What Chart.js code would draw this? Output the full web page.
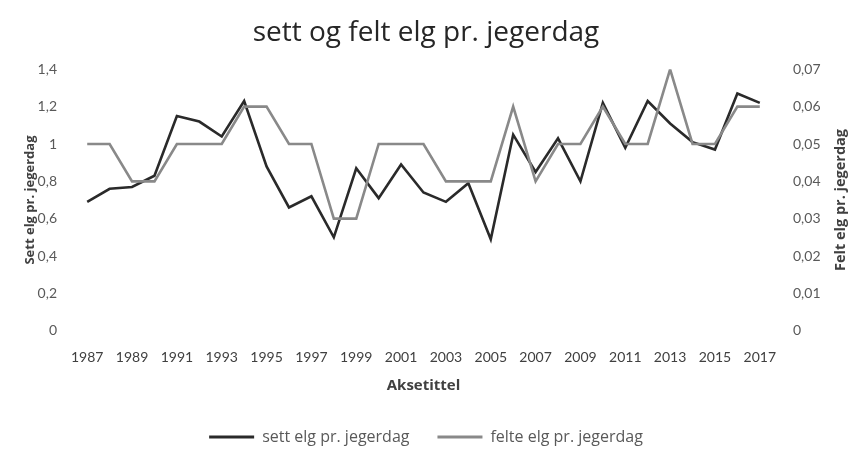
<!DOCTYPE html>
<html>
<head>
<meta charset="utf-8">
<script src="https://cdn.jsdelivr.net/npm/chart.js"></script>
<style>
  html, body { margin: 0; padding: 0; background: #fff; }
  #wrap { width: 852px; height: 449px; position: relative; }
</style>
</head>
<body>
<div id="wrap"><canvas id="elgChart"></canvas></div>
<script>
// Data
const years = ['1987', '1988', '1989', '1990', '1991', '1992', '1993', '1994', '1995', '1996',
               '1997', '1998', '1999', '2000', '2001', '2002', '2003', '2004', '2005', '2006',
               '2007', '2008', '2009', '2010', '2011', '2012', '2013', '2014', '2015', '2016', '2017'];
const settElg = [0.69, 0.76, 0.77, 0.83, 1.15, 1.12, 1.04, 1.23, 0.88, 0.66,
                 0.72, 0.50, 0.87, 0.71, 0.89, 0.74, 0.69, 0.79, 0.49, 1.05,
                 0.85, 1.03, 0.80, 1.22, 0.98, 1.23, 1.11, 1.01, 0.97, 1.27, 1.22];
const felteElg = [0.05, 0.05, 0.04, 0.04, 0.05, 0.05, 0.05, 0.06, 0.06, 0.05,
                  0.05, 0.03, 0.03, 0.05, 0.05, 0.05, 0.04, 0.04, 0.04, 0.06,
                  0.04, 0.05, 0.05, 0.06, 0.05, 0.05, 0.07, 0.05, 0.05, 0.06, 0.06];

const chartTitle = 'sett og felt elg pr. jegerdag';
const xTitle = 'Aksetittel';
const leftTitle = 'Sett elg pr. jegerdag';
const rightTitle = 'Felt elg pr. jegerdag';

const TEXT_FONT = '"Open Sans", "Noto Sans", sans-serif';
const TICK_FONT = 'Lato, "Open Sans", sans-serif';
const DARK = '#2a2a2a';
const GRAY = '#898989';

// Chart.js rotates a right-hand title top-to-bottom; Excel has it bottom-to-top
const rightTitlePlugin = {
    id: 'rightTitle',
    afterDraw(chart) {
        const area = chart.chartArea;
        const ctx = chart.ctx;
        ctx.save();
        ctx.translate(841, (area.top + area.bottom) / 2);
        ctx.rotate(-Math.PI / 2);
        ctx.font = 'bold 14.5px ' + TEXT_FONT;
        ctx.fillStyle = '#404040';
        ctx.textAlign = 'center';
        ctx.textBaseline = 'middle';
        ctx.fillText(rightTitle, 0, 0);
        ctx.restore();
    }
};

function comma(value, digits) {
    if (value === 0) return '0';
    return Number(value.toFixed(digits)).toString().replace('.', ',');
}

new Chart(document.getElementById('elgChart'), {
    type: 'line',
    data: {
        labels: years,
        datasets: [
            {
                label: 'sett elg pr. jegerdag',
                data: settElg,
                yAxisID: 'y',
                borderColor: DARK,
                backgroundColor: DARK,
                borderWidth: 2.6,
                pointRadius: 0,
                tension: 0,
                order: 1
            },
            {
                label: 'felte elg pr. jegerdag',
                data: felteElg,
                yAxisID: 'y1',
                borderColor: GRAY,
                backgroundColor: GRAY,
                borderWidth: 2.6,
                pointRadius: 0,
                tension: 0,
                order: 0
            }
        ]
    },
    options: {
        responsive: true,
        maintainAspectRatio: false,
        animation: false,
        layout: { padding: { left: 0, right: 0, top: 0, bottom: -6 } },
        plugins: {
            title: {
                display: true,
                text: chartTitle,
                color: '#262626',
                font: { family: TEXT_FONT, size: 28, weight: 'normal' },
                padding: { top: 16.2, bottom: 19.5 }
            },
            legend: {
                position: 'bottom',
                labels: {
                    color: '#595959',
                    font: { family: TEXT_FONT, size: 16 },
                    boxWidth: 45,
                    boxHeight: 3,
                    padding: 28,
                    sort: (a, b) => a.datasetIndex - b.datasetIndex,
                    generateLabels(chart) {
                        const items = Chart.defaults.plugins.legend.labels.generateLabels(chart);
                        items.forEach(item => {
                            const ds = chart.data.datasets[item.datasetIndex];
                            item.fillStyle = ds.borderColor;
                            item.lineWidth = 0;
                        });
                        return items;
                    }
                }
            },
            tooltip: { enabled: false }
        },
        scales: {
            x: {
                offset: true,
                grid: { display: false, drawTicks: false },
                border: { display: false },
                ticks: {
                    autoSkip: false,
                    maxRotation: 0,
                    padding: 18,
                    color: '#404040',
                    font: { family: TICK_FONT, size: 14 },
                    callback: function (value, index) {
                        return index % 2 === 0 ? this.getLabelForValue(value) : '';
                    }
                },
                title: {
                    display: true,
                    text: xTitle,
                    color: '#404040',
                    font: { family: TEXT_FONT, size: 15, weight: 'bold' },
                    padding: { top: 4, bottom: 6 }
                },
                afterFit(scale) { scale.height = 70.3; }
            },
            y: {
                position: 'left',
                min: 0,
                max: 1.4,
                grid: { display: false, drawTicks: false },
                border: { display: false },
                ticks: {
                    stepSize: 0.2,
                    padding: 19,
                    color: '#595959',
                    font: { family: TICK_FONT, size: 14 },
                    callback: value => comma(value, 1)
                },
                title: {
                    display: true,
                    text: leftTitle,
                    color: '#404040',
                    font: { family: TEXT_FONT, size: 13, weight: 'bold' },
                    padding: { top: 22.2, bottom: 0 }
                },
                afterFit(scale) { scale.width = 76; }
            },
            y1: {
                position: 'right',
                min: 0,
                max: 0.07,
                grid: { display: false, drawTicks: false },
                border: { display: false },
                ticks: {
                    stepSize: 0.01,
                    padding: 22,
                    color: '#595959',
                    font: { family: TICK_FONT, size: 14 },
                    callback: value => comma(value, 2)
                },
                title: { display: false },
                afterFit(scale) { scale.width = 81; }
            }
        }
    },
    plugins: [rightTitlePlugin]
});
</script>
</body>
</html>
